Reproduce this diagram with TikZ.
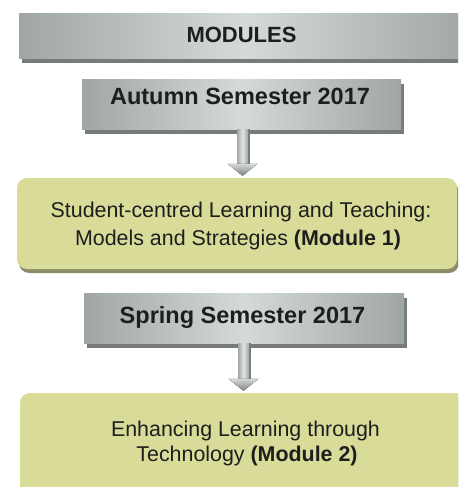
\documentclass[tikz,border=0pt]{standalone}
\usepackage{fontspec}
\setmainfont{Liberation Sans}
\usetikzlibrary{calc}
\definecolor{grayedge}{HTML}{A0A5A5}
\definecolor{graymid}{HTML}{D4D9D9}
\definecolor{shadowgray}{HTML}{777B7B}
\definecolor{greenfill}{HTML}{D9DC99}
\definecolor{greenshadow}{HTML}{8C8E68}
\definecolor{textdark}{HTML}{1E1E1E}
\definecolor{arrowlight}{HTML}{E2E6E6}
\definecolor{arrowdark}{HTML}{7C8080}
\tikzset{
  graybox/.style={rectangle, inner sep=0pt, draw=none,
    preaction={fill=shadowgray, transform canvas={shift={(3pt,-4.5pt)}}},
    left color=grayedge, right color=grayedge, middle color=graymid},
  greenbox/.style={rectangle, rounded corners=10pt, inner sep=0pt, draw=none,
    preaction={fill=greenshadow, transform canvas={shift={(2pt,-4pt)}}},
    fill=greenfill},
  titletext/.style={inner sep=0pt, text=textdark, font=\fontsize{22}{26}\selectfont\bfseries},
  semtext/.style={inner sep=0pt, text=textdark, font=\fontsize{23.5}{28}\selectfont\bfseries},
  modtext/.style={inner sep=0pt, text=textdark, font=\fontsize{21.4}{26}\selectfont},
  stemshade/.style={left color=grayedge, right color=grayedge, middle color=arrowlight},
  headshade/.style={top color=graymid, bottom color=arrowdark},
}
\newcommand{\blockarrow}[3]{%
  \coordinate (#3S) at (#1.south -| #3);
  \coordinate (#3T) at ($(#2.north -| #3)+(0,-2)$);
  \fill[shadowgray] ($(#3S)+(5.5,0)$) rectangle ($(#3T)+(7,-12)$);
  \fill[stemshade] ($(#3S)+(-5.5,0)$) rectangle ($(#3T)+(5.5,-12)$);
  \fill[headshade] ($(#3T)+(-15,-12)$) -- ($(#3T)+(15,-12)$) -- (#3T) -- cycle;
}
\begin{document}
\begin{tikzpicture}[x=1pt,y=-1pt]
\clip (0,0) rectangle (458,487);
\fill[white] (0,0) rectangle (458,487);

% boxes
\node[graybox, minimum width=451pt, minimum height=45pt] (mod) at (244.5,36.5) {};
\node[graybox, minimum width=319pt, minimum height=50pt] (aut) at (241.5,104) {};
\node[greenbox, minimum width=440pt, minimum height=91pt] (m1) at (237,223.5) {};
\node[graybox, minimum width=320pt, minimum height=50pt] (spr) at (244,318) {};
\node[greenbox, minimum width=450pt, minimum height=117pt] (m2) at (245,451.5) {};

% arrows
\coordinate (axa) at (242.5,0);
\coordinate (axb) at (243.5,0);
\blockarrow{aut}{m1}{axa}
\blockarrow{spr}{m2}{axb}

% texts
\node[titletext, anchor=base] (modt) at (241.5,43) {MODULES};
\node[semtext, anchor=base] (autt) at (240,104) {Autumn Semester 2017};
\node[modtext, anchor=base] (m1a) at (241,217) {Student-centred Learning and Teaching:};
\node[modtext, anchor=base] (m1b) at (238,245.5) {Models and Strategies \textbf{(Module 1)}};
\node[semtext, anchor=base] (sprt) at (242.5,323) {Spring Semester 2017};
\node[modtext, anchor=base] (m2a) at (245.5,436.7) {Enhancing Learning through};
\node[modtext, anchor=base] (m2b) at (247,461.7) {Technology \textbf{(Module 2)}};
\end{tikzpicture}
\end{document}
